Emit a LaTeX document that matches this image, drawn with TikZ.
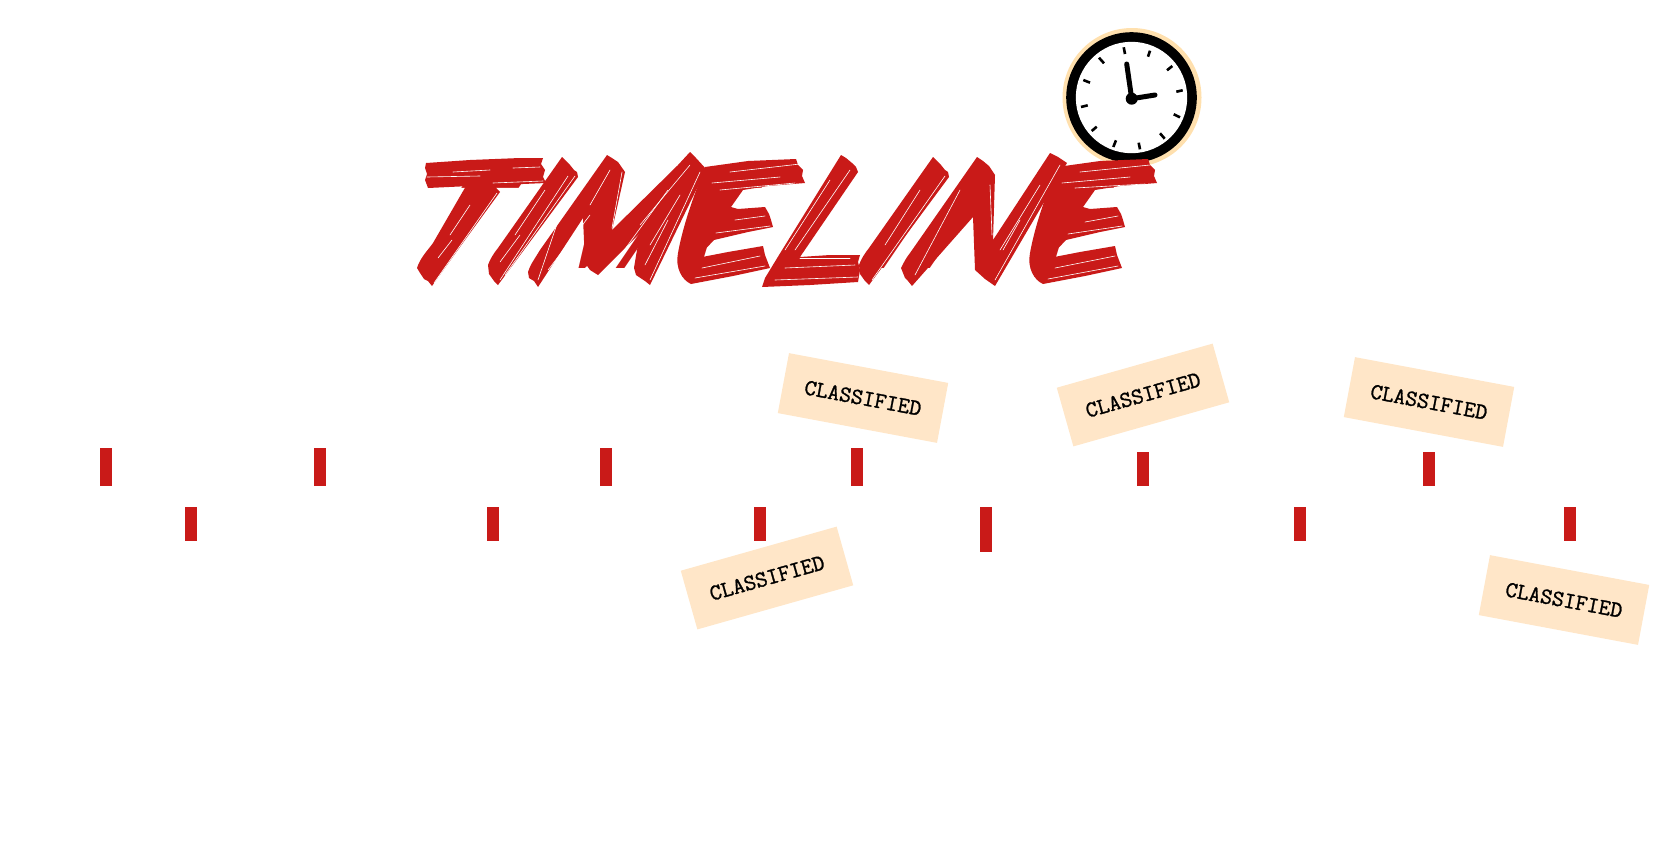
\documentclass[tikz,border=0pt]{standalone}
\usepackage{fontspec}
\newfontfamily\brushfont[FakeSlant=0.68]{Poppins Light}
\newfontfamily\brushE[FakeSlant=0.3]{Poppins Light}
\newfontfamily\typewriter[FakeBold=1.2]{Latin Modern Mono}
\definecolor{brick}{HTML}{C91A18}
\definecolor{peach}{HTML}{FFE6C8}
\definecolor{halo}{HTML}{FFE0AE}
\tikzset{
 tick/.style={fill=brick,inner sep=0pt,minimum width=12pt,draw=none},
 tag/.style={fill=peach,minimum width=162pt,minimum height=61pt,inner sep=0pt,font=\fontsize{23}{23}\selectfont\typewriter},
 clockmark/.style={line width=2.6pt,black},
 brush/.style={fill=brick,draw=none},
 streak/.style={white,line width=.6pt,line cap=round},
}
\begin{document}
\begin{tikzpicture}[x=1pt,y=-1pt]
\useasboundingbox (0,0) rectangle (1680,863);
% clock
\fill[halo] (1132,97.5) circle[radius=69.5];
\fill[black] (1131.5,97.5) circle[radius=65.3];
\fill[white] (1131.5,97.5) circle[radius=55.7];
\foreach \a/\b/\c/\d in {1123.7/47.3/1125/54,1150/50.7/1148/56.7,1172.3/66/1167/70.3,1182.7/90.3/1176.3/91.7,1180/117.3/1173.7/114.3,1164.7/138.7/1160/133.3,1140/149.3/1138.7/142.7,1113.3/147/1116/140.3,1091.7/131/1096.7/126.7,1081/107/1087.7/105.3,1083.3/80/1090/82.7,1099/57.7/1104/63.3}
  \draw[clockmark] (\a,\b) -- (\c,\d);
\coordinate (hub) at (1131.7,98.7);
\coordinate (minute) at (1126.7,64);
\coordinate (hour) at (1155,95);
\draw[line width=5pt,line cap=round] (hub) -- (minute);
\draw[line width=5pt,line cap=round] (hub) -- (hour);
\fill (hub) circle[radius=6];
% title as real text
\node[anchor=base west,inner sep=0pt,text=brick,font=\fontsize{125}{125}\selectfont\brushfont] (title) at (403,268) {T\kern18pt I\kern15pt M\kern47pt{\brushE E}\kern21pt L\kern47pt I\kern17pt N\kern38pt{\brushE E}};
% brush letters
% T
\fill[brush] (426,163) -- (470,160) -- (520,158) -- (543,158) -- (541,164) -- (545,170) -- (543,177) -- (546,183) -- (500,185) -- (470,186) -- (428,188) -- (425,180) -- (427,174) -- (425,168) -- cycle;
\fill[brush] (488,180) -- (494,184) -- (497,189) -- (500,192) -- (465,240) -- (432,286) -- (428,281) -- (424,279) -- (420,273) -- (417,268) .. controls (420,258) and (428,250) .. (433,243) -- (466,186) -- cycle;
% I, I
\foreach \s in {0,371}
 \fill[brush,xshift=\s pt] (562,157) -- (566,161) -- (570,165) -- (574,170) -- (577,172) -- (578,177) -- (498,285) -- (494,281) -- (489,274) -- (488,265) .. controls (490,259) and (494,253) .. (498,248) -- cycle;
% M
\fill[brush] (528,272) .. controls (530,265) and (534,260) .. (540,250) -- (607,155) -- (612,158) -- (618,162) -- (625,172) -- (612,230) -- (678,165) -- (690,152) -- (696,158) -- (707,170) -- (702,178) -- (650,285) -- (645,281) -- (636,275) -- (634,268) .. controls (636,255) and (638,245) .. (640,233) -- (598,275) -- (590,270) -- (585,263) -- (583,218) -- (538,287) -- (534,281) -- (529,278) -- cycle;
% E, E
\foreach \s in {0,-352}
 \fill[brush,xshift=\s pt] (1057,167) -- (1100,161) -- (1148,159) -- (1150,165) -- (1155,170) -- (1154,176) -- (1157,183) -- (1120,186) -- (1095,190) -- (1083,207) -- (1090,209) -- (1117,207) -- (1121,214) -- (1123,220) -- (1125,227) -- (1100,232) -- (1066,240) -- (1049,258) -- (1080,252) -- (1115,246) -- (1117,255) -- (1122,268) -- (1085,276) -- (1043,284) .. controls (1034,280) and (1027,268) .. (1030,253) .. controls (1035,225) and (1046,195) .. (1057,167) -- cycle;
% L
\fill[brush] (841,155) -- (846,158) -- (852,163) -- (856,167) -- (858,172) -- (800,257) -- (830,255) -- (860,255) -- (858,262) -- (860,270) -- (858,282) -- (810,285) -- (762,287) -- (765,278) -- (779,255) -- cycle;
% N
\fill[brush] (901,268) .. controls (904,262) and (906,258) .. (910,253) -- (977,157) -- (983,161) -- (989,166) -- (995,175) -- (993,240) -- (1050,153) -- (1058,157) -- (1067,163) -- (995,286) -- (985,279) -- (975,270) -- (973,217) -- (912,286) -- (908,281) -- (905,278) -- cycle;
% streaks
\foreach \a/\b/\c/\d in {453/172/490/170,427/177/480/176,493/183/543/181,513/168/540/167,497/193/434/283,452/240/438/258,470/205/450/235,568/176/500/280,545/190/515/235,520/235/500/262,
 575/176/505/275,610/170/590/205,622/172/612/228,560/215/538/280,668/190/606/275,690/165/640/225,700/172/650/280,680/195/650/245,668/220/645/265,590/215/548/270,
 730/172/800/164,712/183/780/177,720/190/795/183,735/220/765/216,716/233/770/226,702/268/760/256,695/278/765/266,
 850/170/795/250,830/180/785/250,785/268/855/265,775/280/858/277,800/258/850/258,
 945/176/872/280,920/190/885/245,960/190/915/275,990/185/992/235,1060/165/995/280,1040/185/1000/250,1020/220/1003/250,
 1080/172/1150/165,1062/183/1130/177,1075/188/1145/184,1085/222/1118/216,1068/234/1122/226,1055/268/1115/256,1048/279/1118/266}
 \draw[streak] (\a,\b) -- (\c,\d);
% ticks
\foreach \n/\x/\y/\h in {a/106/466.5/38,b/320/466.5/38,c/606/466.5/38,d/857/466.5/38,e/1143/468.5/34,f/1429/468.5/34,g/191/523.5/34,h/493/523.5/34,i/760/523.5/34,j/986/529/45,k/1300/523.5/34,l/1570/523.5/34}
  \node[tick,minimum height=\h pt] (tick\n) at (\x,\y) {};
% tags
\node[tag,rotate=-10.6] (tagA) at (863,398) {CLASSIFIED};
\node[tag,rotate=15.8] (tagB) at (767,578) {CLASSIFIED};
\node[tag,rotate=15.8] (tagC) at (1143,395) {CLASSIFIED};
\node[tag,rotate=-10.6] (tagD) at (1429,402) {CLASSIFIED};
\node[tag,rotate=-10.6] (tagE) at (1564,600) {CLASSIFIED};
\end{tikzpicture}
\end{document}
